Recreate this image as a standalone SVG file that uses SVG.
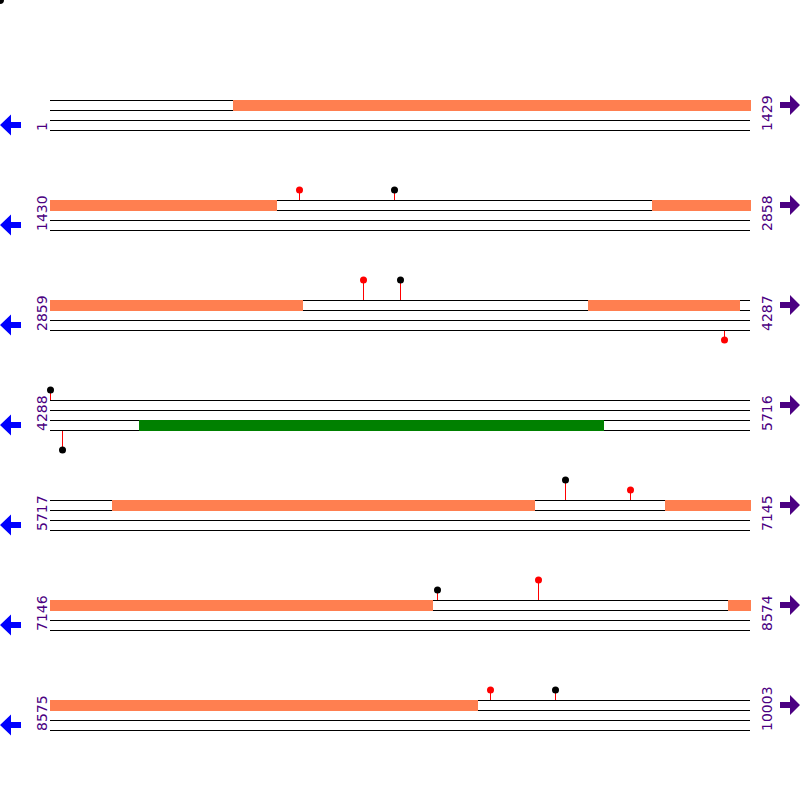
<svg xmlns="http://www.w3.org/2000/svg" width="800" height="800" viewBox="0 0 800 800">
<style>
.ln{stroke:#000;stroke-width:1}
.seg{fill:#FF7F50}
.grn{fill:#008000}
.stem{stroke:#F00;stroke-width:1}
.dr{fill:#F00}
.db{fill:#000}
.lbl{font-family:"DejaVu Sans",Verdana,sans-serif;font-size:14px;fill:#4B0082}
.la{fill:#0000FF}
.ra{fill:#4B0082}
</style>
<defs>
<g id="lines">
<line class="ln" x1="50" y1="0.5" x2="750" y2="0.5"/>
<line class="ln" x1="50" y1="10.5" x2="750" y2="10.5"/>
<line class="ln" x1="50" y1="20.5" x2="750" y2="20.5"/>
<line class="ln" x1="50" y1="30.5" x2="750" y2="30.5"/>
</g>
<path id="larrow" d="M0,25 L11,14.5 L11,22 L21,22 L21,28 L11,28 L11,35.5 Z"/>
<path id="rarrow" d="M800,5 L790,-5 L790,2 L780,2 L780,8 L790,8 L790,15 Z"/>
</defs>
<circle class="db" cx="0" cy="0" r="4"/>

<g id="row1" transform="translate(0,100)">
<use href="#lines"/>
<rect class="seg" x="233" y="0" width="518" height="11"/>
<use href="#larrow" class="la"/>
<use href="#rarrow" class="ra"/>
<text class="lbl" transform="translate(46.5,31) rotate(-90)">1</text>
<text class="lbl" transform="translate(771.5,31) rotate(-90)">1429</text>
</g>

<g id="row2" transform="translate(0,200)">
<use href="#lines"/>
<rect class="seg" x="50" y="0" width="227" height="11"/>
<rect class="seg" x="652" y="0" width="99" height="11"/>
<line class="stem" x1="299.5" y1="-10" x2="299.5" y2="0"/><circle class="dr" cx="299.5" cy="-10" r="3.5"/>
<line class="stem" x1="394.5" y1="-10" x2="394.5" y2="0"/><circle class="db" cx="394.5" cy="-10" r="3.5"/>
<use href="#larrow" class="la"/>
<use href="#rarrow" class="ra"/>
<text class="lbl" transform="translate(46.5,31) rotate(-90)">1430</text>
<text class="lbl" transform="translate(771.5,31) rotate(-90)">2858</text>
</g>

<g id="row3" transform="translate(0,300)">
<use href="#lines"/>
<rect class="seg" x="50" y="0" width="253" height="11"/>
<rect class="seg" x="588" y="0" width="152" height="11"/>
<line class="stem" x1="363.5" y1="-20" x2="363.5" y2="0"/><circle class="dr" cx="363.5" cy="-20" r="3.5"/>
<line class="stem" x1="400.5" y1="-20" x2="400.5" y2="0"/><circle class="db" cx="400.5" cy="-20" r="3.5"/>
<line class="stem" x1="724.5" y1="31" x2="724.5" y2="40"/><circle class="dr" cx="724.5" cy="40" r="3.5"/>
<use href="#larrow" class="la"/>
<use href="#rarrow" class="ra"/>
<text class="lbl" transform="translate(46.5,31) rotate(-90)">2859</text>
<text class="lbl" transform="translate(771.5,31) rotate(-90)">4287</text>
</g>

<g id="row4" transform="translate(0,400)">
<use href="#lines"/>
<rect class="grn" x="139" y="20" width="465" height="11"/>
<line class="stem" x1="50.5" y1="-10" x2="50.5" y2="0"/><circle class="db" cx="50.5" cy="-10" r="3.5"/>
<line class="stem" x1="62.5" y1="31" x2="62.5" y2="50"/><circle class="db" cx="62.5" cy="50" r="3.5"/>
<use href="#larrow" class="la"/>
<use href="#rarrow" class="ra"/>
<text class="lbl" transform="translate(46.5,31) rotate(-90)">4288</text>
<text class="lbl" transform="translate(771.5,31) rotate(-90)">5716</text>
</g>

<g id="row5" transform="translate(0,500)">
<use href="#lines"/>
<rect class="seg" x="112" y="0" width="423" height="11"/>
<rect class="seg" x="665" y="0" width="86" height="11"/>
<line class="stem" x1="565.5" y1="-20" x2="565.5" y2="0"/><circle class="db" cx="565.5" cy="-20" r="3.5"/>
<line class="stem" x1="630.5" y1="-10" x2="630.5" y2="0"/><circle class="dr" cx="630.5" cy="-10" r="3.5"/>
<use href="#larrow" class="la"/>
<use href="#rarrow" class="ra"/>
<text class="lbl" transform="translate(46.5,31) rotate(-90)">5717</text>
<text class="lbl" transform="translate(771.5,31) rotate(-90)">7145</text>
</g>

<g id="row6" transform="translate(0,600)">
<use href="#lines"/>
<rect class="seg" x="50" y="0" width="383" height="11"/>
<rect class="seg" x="728" y="0" width="23" height="11"/>
<line class="stem" x1="437.5" y1="-10" x2="437.5" y2="0"/><circle class="db" cx="437.5" cy="-10" r="3.5"/>
<line class="stem" x1="538.5" y1="-20" x2="538.5" y2="0"/><circle class="dr" cx="538.5" cy="-20" r="3.5"/>
<use href="#larrow" class="la"/>
<use href="#rarrow" class="ra"/>
<text class="lbl" transform="translate(46.5,31) rotate(-90)">7146</text>
<text class="lbl" transform="translate(771.5,31) rotate(-90)">8574</text>
</g>

<g id="row7" transform="translate(0,700)">
<use href="#lines"/>
<rect class="seg" x="50" y="0" width="428" height="11"/>
<line class="stem" x1="490.5" y1="-10" x2="490.5" y2="0"/><circle class="dr" cx="490.5" cy="-10" r="3.5"/>
<line class="stem" x1="555.5" y1="-10" x2="555.5" y2="0"/><circle class="db" cx="555.5" cy="-10" r="3.5"/>
<use href="#larrow" class="la"/>
<use href="#rarrow" class="ra"/>
<text class="lbl" transform="translate(46.5,31) rotate(-90)">8575</text>
<text class="lbl" transform="translate(771.5,31) rotate(-90)">10003</text>
</g>
</svg>
